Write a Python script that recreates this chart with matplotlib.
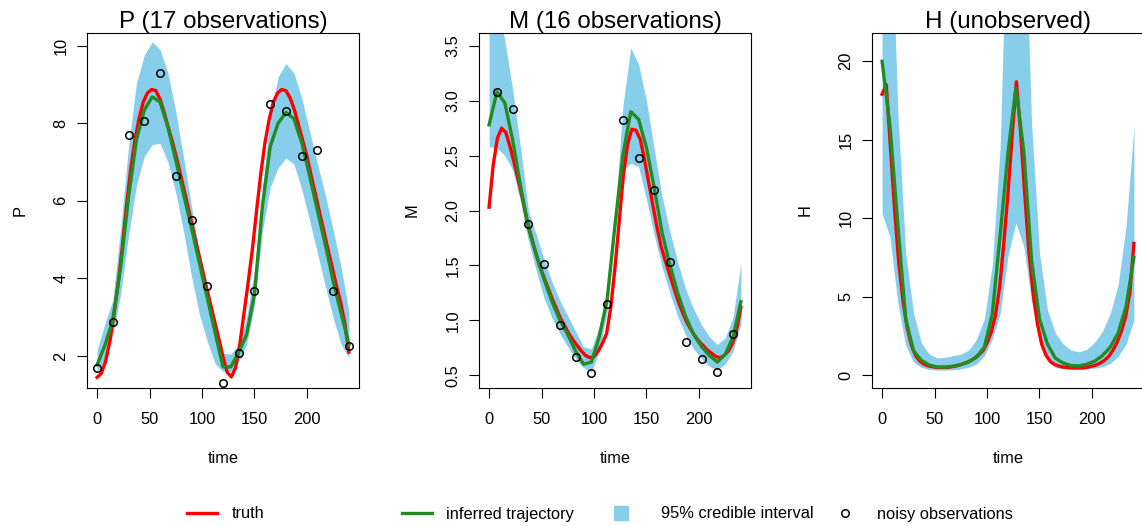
import matplotlib
matplotlib.use("Agg")
import matplotlib.pyplot as plt
from matplotlib.lines import Line2D
import numpy as np

# colours as in the R original
COLOR_TRUTH = "#FF0000"
COLOR_FIT = "#228B22"     # forestgreen
COLOR_BAND = "#87CEEB"    # skyblue
COLOR_OBS = "black"

# time grids
T_TRUTH = np.arange(0, 241, 4)
T_FIT = np.arange(0, 240.1, 7.5)
T_OBS_P = np.arange(0, 241, 15)
T_OBS_M = np.arange(7.5, 240, 15)

# --- P ---
P_TRUTH = [1.45, 1.55, 1.85, 2.35, 3.05, 3.85, 4.8, 5.85, 6.8, 7.55, 8.12, 8.55, 8.78,
           8.87, 8.84, 8.62, 8.27, 7.88, 7.5, 7.08, 6.62, 6.15, 5.68, 5.2, 4.73, 4.27,
           3.8, 3.35, 2.9, 2.45, 1.98, 1.58, 1.46, 1.7, 2.3, 3.1, 3.9, 4.75,
           5.75, 6.7, 7.5, 8.1, 8.55, 8.78, 8.87, 8.84, 8.65, 8.35, 7.95, 7.55,
           7.15, 6.65, 6.18, 5.7, 5.23, 4.75, 4.3, 3.82, 3.4, 2.85, 2.1]
P_FIT = [1.77, 2.28, 2.93, 4.3, 6.1, 7.57, 8.34, 8.68, 8.55, 7.9, 7.05, 6.16, 5.3, 4.4,
         3.5, 2.6, 1.72, 1.72, 2.1, 2.55, 3.6, 5.85, 7.4, 8.0, 8.28, 8.12, 7.5, 6.65,
         5.75, 4.87, 3.93, 3.1, 2.3]
P_LO = [1.6, 1.9, 2.55, 3.6, 5.1, 6.4, 7.15, 7.45, 7.48, 7.0, 6.2, 5.2, 4.05, 3.08,
        2.38, 1.8, 1.6, 1.6, 1.85, 2.3, 3.3, 5.2, 6.35, 6.85, 7.1, 6.95, 6.3, 5.5,
        4.65, 3.8, 2.98, 2.3, 1.95]
P_HI = [2.15, 2.84, 3.44, 5.3, 7.4, 9.03, 9.76, 10.1, 9.9, 9.3, 8.3, 7.1, 5.85, 4.65,
        3.5, 2.5, 2.07, 2.05, 2.3, 3.0, 4.2, 6.3, 8.15, 9.2, 9.54, 9.3, 8.65, 7.8,
        6.95, 6.15, 5.25, 4.3, 3.15]
P_OBS = [1.68, 2.88, 7.70, 8.07, 9.30, 6.65, 5.50, 3.80, 1.30, 2.09, 3.68, 8.49,
         8.31, 7.15, 7.32, 3.68, 2.26]

# --- M ---
M_TRUTH = [2.03, 2.42, 2.66, 2.75, 2.71, 2.58, 2.43, 2.27, 2.1, 1.92, 1.77, 1.63, 1.5,
           1.4, 1.3, 1.2, 1.11, 1.02, 0.95, 0.88, 0.82, 0.77, 0.72, 0.68, 0.66, 0.67,
           0.72, 0.79, 0.88, 1.12, 1.48, 1.9, 2.32, 2.6, 2.74, 2.73, 2.65, 2.47,
           2.26, 2.05, 1.85, 1.67, 1.54, 1.42, 1.3, 1.18, 1.08, 0.99, 0.92, 0.86,
           0.81, 0.77, 0.73, 0.7, 0.67, 0.66, 0.68, 0.72, 0.79, 0.92, 1.12]
M_FIT = [2.78, 3.08, 2.98, 2.64, 2.22, 1.84, 1.6, 1.37, 1.17, 1.0, 0.87, 0.72, 0.6,
         0.62, 0.85, 1.19, 1.87, 2.5, 2.9, 2.83, 2.57, 2.2, 1.79, 1.5, 1.24, 1.03,
         0.87, 0.76, 0.68, 0.62, 0.69, 0.85, 1.17]
M_LO = [2.58, 2.57, 2.5, 2.37, 2.08, 1.72, 1.45, 1.2, 1.02, 0.88, 0.76, 0.65, 0.57,
        0.53, 0.72, 1.08, 1.8, 2.37, 2.43, 2.4, 2.1, 1.77, 1.48, 1.24, 1.03, 0.86,
        0.74, 0.65, 0.58, 0.55, 0.6, 0.72, 0.97]
M_HI = [4.0, 3.9, 3.55, 3.1, 2.57, 2.0, 1.78, 1.55, 1.35, 1.18, 1.04, 0.9, 0.76,
        0.74, 0.95, 1.25, 1.95, 2.95, 3.48, 3.33, 3.0, 2.55, 2.12, 1.8, 1.52, 1.28,
        1.1, 0.96, 0.85, 0.78, 0.84, 1.03, 1.52]
M_OBS = [3.08, 2.92, 1.88, 1.51, 0.96, 0.67, 0.52, 1.15, 2.82, 2.48, 2.19, 1.53,
         0.80, 0.65, 0.53, 0.88]

# --- H (unobserved) ---
H_TRUTH = [17.9, 18.5, 14.5, 10.5, 7.1, 4.7, 3.0, 1.9, 1.25, 0.9, 0.7, 0.6, 0.55,
           0.5, 0.5, 0.5, 0.52, 0.56, 0.62, 0.7, 0.8, 0.92, 1.08, 1.3, 1.55, 2.05,
           2.75, 3.8, 5.6, 8.4, 11.6, 15.3, 18.7, 15.5, 11.5, 7.8, 5.2, 3.3,
           2.0, 1.3, 0.9, 0.7, 0.6, 0.53, 0.5, 0.48, 0.47, 0.47, 0.48, 0.52,
           0.58, 0.66, 0.78, 0.95, 1.2, 1.6, 2.1, 2.8, 3.7, 5.2, 8.4]
H_FIT = [20.0, 15.9, 9.6, 3.6, 1.55, 0.95, 0.65, 0.53, 0.52, 0.58, 0.68, 0.85, 1.15,
         1.8, 3.9, 8.9, 14.2, 18.3, 14.3, 7.3, 3.6, 2.0, 1.1, 0.78, 0.62, 0.6, 0.7,
         0.9, 1.25, 1.8, 2.7, 4.4, 7.5]
H_LO = [10.3, 8.8, 4.6, 1.9, 0.85, 0.5, 0.36, 0.33, 0.33, 0.35, 0.4, 0.52, 0.72,
        1.25, 2.3, 3.9, 7.6, 9.7, 8.2, 4.7, 2.3, 1.0, 0.5, 0.4, 0.38, 0.38, 0.4,
        0.45, 0.55, 0.76, 1.2, 2.0, 3.5]
H_HI = [32, 32, 16.8, 7.8, 3.95, 2.05, 1.35, 1.1, 1.15, 1.25, 1.35, 1.6, 2.3, 3.6,
        7.0, 14.5, 32, 32, 31.5, 16.0, 7.8, 4.2, 2.7, 2.0, 1.6, 1.5, 1.65, 2.1, 2.8,
        3.95, 5.8, 9.5, 15.8]

W, H_PX = 1142, 526
FS = 11.8
OBS_SIZE = 5.4


def set_style():
    plt.rcParams['font.family'] = ['Liberation Sans', 'DejaVu Sans']
    plt.rcParams['font.size'] = FS
    plt.rcParams['axes.linewidth'] = 0.8


def draw_panel(fig, left_px, name, title, ylim, yticks,
               truth, fit, lo, hi, t_obs=None, obs=None):
    ax = fig.add_axes([left_px / W, 1 - 388 / H_PX, 272 / W, 355 / H_PX])

    ax.fill_between(T_FIT, lo, hi, color=COLOR_BAND, linewidth=0, zorder=1)
    ax.plot(T_TRUTH, truth, color=COLOR_TRUTH, linewidth=2.4, zorder=2)
    ax.plot(T_FIT, fit, color=COLOR_FIT, linewidth=2.4, zorder=3)
    if obs is not None:
        ax.plot(t_obs, obs, linestyle="none", marker="o", markersize=OBS_SIZE,
                markerfacecolor="none", markeredgecolor=COLOR_OBS,
                markeredgewidth=1.1, zorder=4)

    ax.set_xlim(-9.6, 249.6)
    ax.set_ylim(*ylim)
    ax.set_xticks([0, 50, 100, 150, 200])
    ax.set_yticks(yticks)
    ax.tick_params(direction="out", length=7.2, width=0.8, colors="black")
    ax.tick_params(axis="x", pad=10.4)
    ax.tick_params(axis="y", pad=6.2)
    plt.setp(ax.get_yticklabels(), rotation=90, va="center")

    ax.set_title(title, fontsize=17.4, pad=3.4)
    ax.set_xlabel("time")
    ax.xaxis.set_label_coords(0.5, -0.1766)
    ax.set_ylabel(name)
    ax.yaxis.set_label_coords(-0.2176, 0.5)
    return ax


def add_key(fig, handle, label, x_px, textpad):
    leg = fig.legend([handle], [label], loc="center left",
                     bbox_to_anchor=(x_px / W, 1 - 514 / H_PX),
                     frameon=False, borderpad=0, borderaxespad=0,
                     handlelength=1.86, handletextpad=textpad, fontsize=FS)
    return leg


def main():
    set_style()
    fig = plt.figure(figsize=(W / 100, H_PX / 100), dpi=100)

    draw_panel(fig, 87, "P", "P (17 observations)", (1.175, 10.327),
               [2, 4, 6, 8, 10], P_TRUTH, P_FIT, P_LO, P_HI, T_OBS_P, P_OBS)
    draw_panel(fig, 479, "M", "M (16 observations)", (0.384, 3.616),
               [0.5, 1.0, 1.5, 2.0, 2.5, 3.0, 3.5], M_TRUTH, M_FIT, M_LO, M_HI,
               T_OBS_M, M_OBS)
    draw_panel(fig, 872, "H", "H (unobserved)", (-0.809, 21.80),
               [0, 5, 10, 15, 20], H_TRUTH, H_FIT, H_LO, H_HI)

    add_key(fig, Line2D([], [], color=COLOR_TRUTH, linewidth=2.4), "truth", 187, 0.84)
    add_key(fig, Line2D([], [], color=COLOR_FIT, linewidth=2.4),
            "inferred trajectory", 402, 0.84)
    add_key(fig, Line2D([], [], linestyle="none", marker="s", markersize=9.5,
                        color=COLOR_BAND), "95% credible interval", 606, 1.5)
    add_key(fig, Line2D([], [], linestyle="none", marker="o", markersize=OBS_SIZE,
                        markerfacecolor="none", markeredgecolor=COLOR_OBS,
                        markeredgewidth=1.1), "noisy observations", 830, 1.0)

    fig.savefig("out.png", dpi=100)
    plt.close(fig)


if __name__ == "__main__":
    main()
